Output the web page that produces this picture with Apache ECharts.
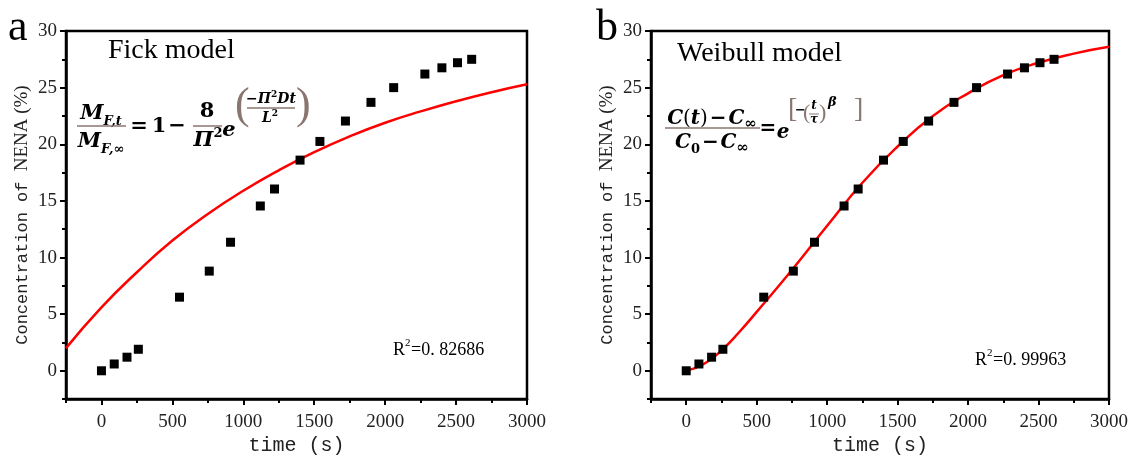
<!DOCTYPE html>
<html>
<head>
<meta charset="utf-8">
<script src="https://cdn.jsdelivr.net/npm/echarts@6/dist/echarts.min.js"></script>
<style>
html,body{margin:0;padding:0;background:#fff;}
#c{width:1131px;height:461px;}
</style>
</head>
<body>
<div id="c"></div>
<script>
// ---- data ----
const timeS = [0, 90, 180, 260, 550, 760, 910, 1120, 1220, 1400, 1540, 1720, 1900, 2060, 2280, 2400, 2510, 2610];
const concNENA = [0, 0.6, 1.2, 1.9, 6.5, 8.8, 11.35, 14.55, 16.05, 18.6, 20.25, 22.05, 23.7, 25.0, 26.2, 26.75, 27.2, 27.5];

const fickT = [-250, 0, 250, 500, 750, 1000, 1250, 1500, 1750, 2000, 2250, 2500, 2750, 3000];
const fickY = [2.0, 5.6, 8.7, 11.5, 13.85, 15.9, 17.7, 19.3, 20.7, 21.9, 22.9, 23.8, 24.6, 25.3];

const weibT = [0, 125, 250, 375, 500, 750, 1000, 1250, 1500, 1750, 2000, 2250, 2500, 2750, 3000];
const weibY = [0, 0.6, 1.8, 3.4, 5.2, 8.9, 12.8, 16.6, 19.8, 22.5, 24.5, 26.1, 27.2, 28.0, 28.6];

const xMajor = [0, 500, 1000, 1500, 2000, 2500, 3000];
const xMinor = [-250, 250, 750, 1250, 1750, 2250, 2750];
const yMajor = [0, 5, 10, 15, 20, 25, 30];
const yMinor = [-2.5, 2.5, 7.5, 12.5, 17.5, 22.5, 27.5];

const r2Fick = '0. 82686';
const r2Weib = '0. 99963';

// ---- chart ----
const chart = echarts.init(document.getElementById('c'));
const serif = 'Liberation Serif';
const mono = 'Liberation Mono';
const fml = 'DejaVu Serif';
const brown = '#8a7670';
const piBrown = '#7b5a52';

function pairs(xs, ys){ return xs.map((x,i)=>[x, ys[i]]); }

function xAxes(g){
  return [
    {gridIndex:g, type:'value', min:-250, max:3000, position:'bottom',
     axisLine:{show:true, onZero:false, lineStyle:{color:'#000', width:2.5}},
     axisTick:{show:true, customValues:xMajor, length:6, lineStyle:{color:'#000', width:2}},
     axisLabel:{customValues:xMajor, formatter:v=>String(v), color:'#222', fontFamily:serif, fontSize:19, margin:13},
     splitLine:{show:false},
     name:'time (s)', nameLocation:'middle', nameGap:34,
     nameTextStyle:{fontFamily:mono, fontSize:20, color:'#222'}},
    {gridIndex:g, type:'value', min:-250, max:3000, position:'bottom',
     axisLine:{show:false, onZero:false},
     axisTick:{show:true, customValues:xMinor, length:4, lineStyle:{color:'#000', width:2}},
     axisLabel:{show:false}, splitLine:{show:false}}
  ];
}
function yAxes(g){
  return [
    {gridIndex:g, type:'value', min:-2.5, max:30, position:'left',
     axisLine:{show:true, onZero:false, lineStyle:{color:'#000', width:2.5}},
     axisTick:{show:true, customValues:yMajor, length:6, lineStyle:{color:'#000', width:2}},
     axisLabel:{customValues:yMajor, formatter:v=>String(v), color:'#222', fontFamily:serif, fontSize:19, margin:9},
     splitLine:{show:false},
     name:'{a|Concentration of }{b|NENA (%)}', nameLocation:'middle', nameGap:34, nameRotate:90,
     nameTextStyle:{rich:{a:{fontFamily:mono, fontSize:17, color:'#222'}, b:{fontFamily:serif, fontSize:19, color:'#222'}}}},
    {gridIndex:g, type:'value', min:-2.5, max:30, position:'left',
     axisLine:{show:false, onZero:false},
     axisTick:{show:true, customValues:yMinor, length:4, lineStyle:{color:'#000', width:2}},
     axisLabel:{show:false}, splitLine:{show:false}}
  ];
}

// graphic helpers (annotation text only)
function T(x, y, text, size, o){
  o = o || {};
  return {type:'text', x:x, y:y, z:100, silent:true,
    style:{text:text, fill:o.fill||'#000',
      font:(o.style||'')+' '+(o.weight||'normal')+' '+size+'px "'+(o.family||serif)+'"',
      textAlign:o.align||'left', textVerticalAlign:'middle'}};
}
function tok(size, o){
  o = o || {};
  return {fontFamily:o.family||fml, fontSize:size, fontWeight:o.weight||'bold', fontStyle:o.style||'normal',
    color:o.fill||'#000', lineHeight:o.lh||size, verticalAlign:o.va||'middle', padding:o.pad||0};
}
function R(x, y, text, rich, align){
  return {type:'text', x:x, y:y, z:100, silent:true,
    style:{text:text, rich:rich, textAlign:align||'center', textVerticalAlign:'middle'}};
}
function L(x1, y1, x2, y2, c, w){
  return {type:'line', z:100, silent:true, shape:{x1:x1,y1:y1,x2:x2,y2:y2}, style:{stroke:c||brown, lineWidth:w||1.5}};
}

const bigRich = {
  m:tok(21, {style:'italic', lh:28}),
  s:tok(13, {style:'italic', lh:13, va:'bottom'}),
  u:tok(13, {lh:13, va:'top'}),
  pi:tok(21, {style:'italic', lh:28, fill:piBrown}),
  o:tok(21, {lh:28})
};
const wRich = {
  m:tok(20, {style:'italic', lh:26}),
  p:tok(20, {lh:26, weight:'normal', fill:brown}),
  o:tok(20, {lh:26}),
  sp:tok(6, {lh:26, weight:'normal'}),
  n:tok(13, {lh:13, va:'bottom'}),
  q:tok(15, {lh:15, va:'bottom'})
};
const smallRich = {
  m:tok(14, {style:'italic', lh:18}),
  o:tok(14, {lh:18}),
  u:tok(9, {lh:9, va:'top'})
};

const graphics = [
  T(8, 28, 'a', 44, {family:serif}),
  T(596, 28, 'b', 44, {family:serif}),
  T(108, 51, 'Fick model', 28, {family:serif}),
  T(677, 54, 'Weibull model', 28, {family:serif}),
  // Fick formula
  R(101, 114, '{m|M}{s|F,t}', bigRich),
  L(77, 126, 126, 126),
  R(101, 142, '{m|M}{s|F,∞}', bigRich),
  R(139, 127, '{o|=}', bigRich),
  R(159, 127, '{o|1}', bigRich),
  R(177, 127, '{o|−}', bigRich),
  R(207, 112, '{o|8}', bigRich),
  L(193, 126, 222, 126),
  R(208, 141, '{pi|Π}{u|2}', bigRich),
  R(229, 131, '{m|e}', bigRich),
  T(235, 106, '(', 44, {fill:brown, family:serif}),
  T(296, 106, ')', 44, {fill:brown, family:serif}),
  R(271, 99, '{o|−}{m|Π}{u|2}{m|Dt}', smallRich),
  L(247, 108, 295, 108),
  R(270, 118, '{m|L}{u|2}', smallRich),
  // Weibull formula
  R(712, 119, '{m|C}{p|(}{m|t}{p|)}{sp| }{o|−}{sp| }{m|C}{q|∞}', wRich),
  L(665, 128, 760, 128),
  R(712, 143, '{m|C}{n|0}{sp| }{o|−}{sp| }{m|C}{q|∞}', wRich),
  R(768, 129, '{o|=}', wRich),
  R(783, 133, '{m|e}', wRich),
  T(788, 110, '[', 28, {fill:brown, family:serif}),
  T(854, 110, ']', 28, {fill:brown, family:serif}),
  T(795, 111, '−', 13, {weight:'bold', family:fml}),
  T(803, 113, '(', 22, {fill:brown, family:serif}),
  R(814, 106, '{m|t}', {m:tok(12, {style:'italic'})}),
  L(809, 114, 819, 114, brown, 1),
  R(814, 120, '{m|τ}', {m:tok(12, {style:'italic'})}),
  T(819, 113, ')', 22, {fill:brown, family:serif}),
  T(828, 103, 'β', 13, {style:'italic', weight:'bold', family:fml}),
  // R^2
  T(393, 350, 'R', 18, {family:serif}), T(405, 343, '2', 11, {family:serif}), T(411, 350, '=' + r2Fick, 18, {family:serif}),
  T(975, 360, 'R', 18, {family:serif}), T(987, 353, '2', 11, {family:serif}), T(993, 360, '=' + r2Weib, 18, {family:serif})
];

const option = {
  backgroundColor:'#fff',
  animation:false,
  grid:[
    {left:66, right:604, top:31, bottom:60, show:true, borderColor:'#000', borderWidth:2.5, backgroundColor:'transparent'},
    {left:651, right:20, top:31, bottom:60, show:true, borderColor:'#000', borderWidth:2.5, backgroundColor:'transparent'}
  ],
  xAxis: xAxes(0).concat(xAxes(1)),
  yAxis: yAxes(0).concat(yAxes(1)),
  series:[
    {type:'line', xAxisIndex:0, yAxisIndex:0, data:pairs(fickT, fickY), smooth:true, showSymbol:false,
     lineStyle:{color:'#ff0000', width:2.5}, z:2},
    {type:'scatter', xAxisIndex:0, yAxisIndex:0, data:pairs(timeS, concNENA), symbol:'rect', symbolSize:9,
     itemStyle:{color:'#000', opacity:1}, z:3},
    {type:'line', xAxisIndex:2, yAxisIndex:2, data:pairs(weibT, weibY), smooth:true, showSymbol:false,
     lineStyle:{color:'#ff0000', width:2.5}, z:2},
    {type:'scatter', xAxisIndex:2, yAxisIndex:2, data:pairs(timeS, concNENA), symbol:'rect', symbolSize:9,
     itemStyle:{color:'#000', opacity:1}, z:3}
  ],
  graphic: graphics
};
chart.setOption(option);
</script>
</body>
</html>
